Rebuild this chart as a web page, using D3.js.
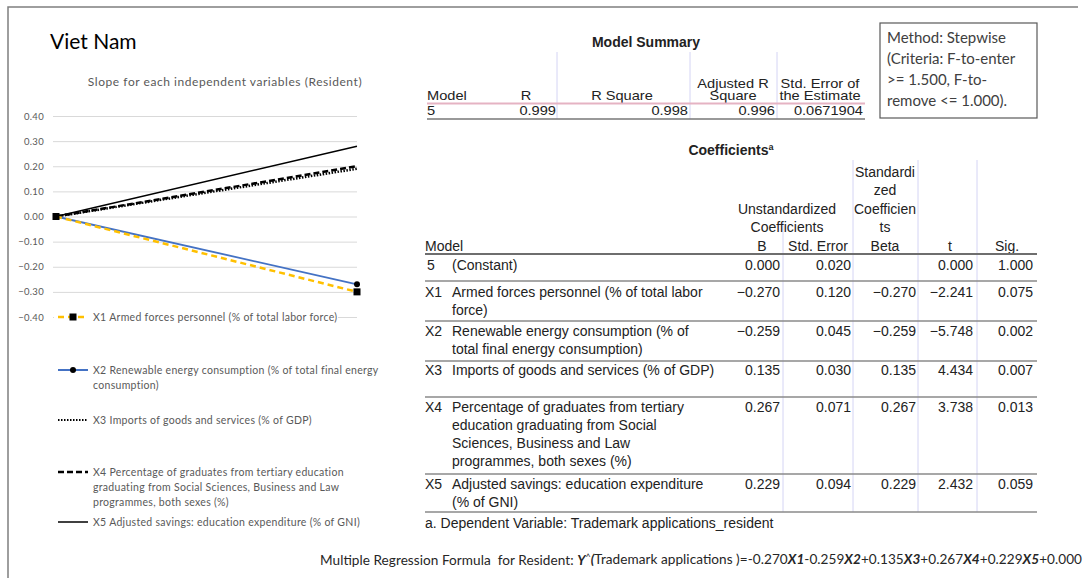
<!DOCTYPE html>
<html><head><meta charset="utf-8">
<script src="https://cdn.jsdelivr.net/npm/d3@7"></script>
<style>
html,body{margin:0;padding:0;background:#fff;}
svg{display:block;}
</style></head>
<body>
<svg id="c" width="1088" height="578"></svg>
<script>
// ---------- chart data ----------
const categories = ["start", "end"];
const x1Values = [0, -0.30];   // X1 Armed forces personnel
const x2Values = [0, -0.27];   // X2 Renewable energy consumption
const x3Values = [0, 0.19];    // X3 Imports of goods and services
const x4Values = [0, 0.20];    // X4 Percentage of graduates ...
const x5Values = [0, 0.28];    // X5 Adjusted savings: education expenditure
const yTicks = [-0.4, -0.3, -0.2, -0.1, 0, 0.1, 0.2, 0.3, 0.4];
const legendLabels = [
  ["X1 Armed forces personnel (% of total labor force)"],
  ["X2 Renewable energy consumption (% of total final energy", "consumption)"],
  ["X3 Imports of goods and services (% of GDP)"],
  ["X4 Percentage of graduates from tertiary education", "graduating from Social Sciences, Business and Law", "programmes, both sexes (%)"],
  ["X5 Adjusted savings: education expenditure (% of GNI)"]
];

// ---------- Model Summary ----------
const msHeaders = [["", "Model"], ["", "R"], ["", "R Square"], ["Adjusted R", "Square"], ["Std. Error of", "the Estimate"]];
const msRow = ["5", "0.999", "0.998", "0.996", "0.0671904"];

// ---------- Coefficients ----------
const coefCodes = ["5", "X1", "X2", "X3", "X4", "X5"];
const coefLabels = [
  ["(Constant)"],
  ["Armed forces personnel (% of total labor", "force)"],
  ["Renewable energy consumption (% of", "total final energy consumption)"],
  ["Imports of goods and services (% of GDP)"],
  ["Percentage of graduates from tertiary", "education graduating from Social", "Sciences, Business and Law", "programmes, both sexes (%)"],
  ["Adjusted savings: education expenditure", "(% of GNI)"]
];
const coefB    = ["0.000", "\u22120.270", "\u22120.259", "0.135", "0.267", "0.229"];
const coefSE   = ["0.020", "0.120", "0.045", "0.030", "0.071", "0.094"];
const coefBeta = ["", "\u22120.270", "\u22120.259", "0.135", "0.267", "0.229"];
const coefT    = ["0.000", "\u22122.241", "\u22125.748", "4.434", "3.738", "2.432"];
const coefSig  = ["1.000", "0.075", "0.002", "0.007", "0.013", "0.059"];
const methodLines = ["Method: Stepwise", "(Criteria: F-to-enter", ">= 1.500, F-to-", "remove <= 1.000)."];

const svg = d3.select("#c");
svg.append("rect").attr("width", 1088).attr("height", 578).attr("fill", "#fff");

// frame
svg.append("path").attr("d", "M8,578V7H1078").attr("fill", "none").attr("stroke", "#7f7f7f").attr("stroke-width", 1.5);

const CAL = "Lato, 'Open Sans', sans-serif";
const ARI = "'Liberation Sans', Arial, sans-serif";

svg.append("text").attr("x", 50).attr("y", 42).attr("dy", "0.35em")
  .attr("font-family", CAL).attr("font-size", 21).attr("fill", "#000").text("Viet Nam");

svg.append("text").attr("x", 225).attr("y", 82).attr("dy", "0.35em").attr("text-anchor", "middle")
  .attr("font-family", CAL).attr("font-size", 12).attr("letter-spacing", 0.55).attr("fill", "#595959")
  .text("Slope for each independent variables (Resident)");

// scales
const y = d3.scaleLinear().domain([-0.4, 0.4]).range([317, 116]);
const x = d3.scalePoint().domain(categories).range([56, 357]);

const yAxis = d3.axisLeft(y).tickValues(yTicks).tickFormat(d3.format(".2f")).tickSize(-304).tickPadding(9);
const ga = svg.append("g").attr("transform", "translate(53,0)").call(yAxis);
ga.select(".domain").remove();
ga.selectAll(".tick line").attr("stroke", "#d9d9d9").attr("stroke-width", 1);
ga.selectAll(".tick text").attr("font-family", CAL).attr("font-size", 9.5).attr("letter-spacing", 0.3).attr("fill", "#595959");

const line = d3.line().x((d, i) => x(categories[i])).y(d => y(d));

const series = [
  {vals: x5Values, color: "#000", w: 1.5, dash: null},
  {vals: x4Values, color: "#000", w: 2.5, dash: "6,3"},
  {vals: x3Values, color: "#000", w: 2.5, dash: "1.5,1.5"},
  {vals: x2Values, color: "#4472C4", w: 1.8, dash: null},
  {vals: x1Values, color: "#FFC000", w: 2.5, dash: "6,4"}
];
series.forEach(s => {
  svg.append("path").datum(s.vals).attr("d", line).attr("fill", "none")
    .attr("stroke", s.color).attr("stroke-width", s.w).attr("stroke-dasharray", s.dash);
});
// markers
svg.selectAll(".m2").data(x2Values).enter().append("circle")
  .attr("cx", (d, i) => x(categories[i])).attr("cy", d => y(d)).attr("r", 3).attr("fill", "#000");
svg.selectAll(".m1").data(x1Values).enter().append("rect")
  .attr("x", (d, i) => x(categories[i]) - 3.5).attr("y", d => y(d) - 3.5)
  .attr("width", 7).attr("height", 7).attr("fill", "#000");

// legend
const lg = svg.append("g");
lg.append("rect").attr("x", 54).attr("y", 310).attr("width", 284).attr("height", 220).attr("fill", "#fff");
const legY = [317, 370, 420, 472, 522];
const legStyles = [
  {color: "#FFC000", w: 2.5, dash: "6,4", marker: "sq"},
  {color: "#4472C4", w: 2, dash: null, marker: "ci"},
  {color: "#000", w: 2, dash: "1.5,1.5", marker: null},
  {color: "#000", w: 2.5, dash: "6,3", marker: null},
  {color: "#000", w: 1.5, dash: null, marker: null}
];
legendLabels.forEach((lines, i) => {
  const st = legStyles[i], yy = legY[i];
  lg.append("line").attr("x1", 58).attr("x2", 88).attr("y1", yy).attr("y2", yy)
    .attr("stroke", st.color).attr("stroke-width", st.w).attr("stroke-dasharray", st.dash);
  if (st.marker === "sq") lg.append("rect").attr("x", 69.5).attr("y", yy - 3.5).attr("width", 7).attr("height", 7).attr("fill", "#000");
  if (st.marker === "ci") lg.append("circle").attr("cx", 73).attr("cy", yy).attr("r", 3).attr("fill", "#000");
  lines.forEach((t, j) => {
    lg.append("text").attr("x", 93).attr("y", yy + j * 15).attr("dy", "0.35em")
      .attr("font-family", CAL).attr("font-size", 10.5).attr("letter-spacing", 0.3).attr("fill", "#595959").text(t);
  });
});

// helper: horizontally stretched text
function sText(g, xx, yy, t, anchor, sx) {
  g.append("text").attr("transform", `translate(${xx},${yy}) scale(${sx},1)`).attr("dy", "0.35em")
    .attr("text-anchor", anchor).text(t);
}

// ---------- Model Summary table ----------
const MSX = 1.17;
const ms = svg.append("g").attr("font-family", ARI).attr("font-size", 12.5).attr("fill", "#222");
ms.append("text").attr("x", 646).attr("y", 42).attr("dy", "0.35em").attr("text-anchor", "middle")
  .attr("font-weight", "bold").attr("font-size", 14).text("Model Summary");
const msSep = [557, 690, 777];
msSep.forEach(xx => ms.append("line").attr("x1", xx).attr("x2", xx).attr("y1", 52).attr("y2", 119)
  .attr("stroke", "#d4d4f4").attr("stroke-width", 1));
const msHx = [[427, "start"], [526, "middle"], [622, "middle"], [733, "middle"], [820, "middle"]];
msHeaders.forEach((h, i) => {
  h.forEach((t, j) => {
    if (!t) return;
    sText(ms, msHx[i][0], 84 + j * 12, t, msHx[i][1], MSX);
  });
});
ms.append("line").attr("x1", 427).attr("x2", 865).attr("y1", 103.5).attr("y2", 103.5).attr("stroke", "#e5b3c3").attr("stroke-width", 2);
const msRx = [[427, "start"], [556, "end"], [688, "end"], [775, "end"], [863, "end"]];
msRow.forEach((t, i) => sText(ms, msRx[i][0], 111, t, msRx[i][1], MSX));
ms.append("line").attr("x1", 427).attr("x2", 865).attr("y1", 119).attr("y2", 119).attr("stroke", "#777").attr("stroke-width", 1.5);

// Method box
const mb = svg.append("g");
mb.append("rect").attr("x", 880).attr("y", 23).attr("width", 157).attr("height", 95)
  .attr("fill", "#fff").attr("stroke", "#595959").attr("stroke-width", 1.2);
methodLines.forEach((t, i) => {
  mb.append("text").attr("x", 887).attr("y", 38 + i * 21).attr("dy", "0.35em")
    .attr("font-family", CAL).attr("font-size", 15).attr("fill", "#404040").text(t);
});

// ---------- Coefficients table ----------
const ct = svg.append("g").attr("font-family", ARI).attr("font-size", 14).attr("fill", "#222");
const ctTitle = ct.append("text").attr("x", 731).attr("y", 150).attr("dy", "0.35em").attr("text-anchor", "middle")
  .attr("font-weight", "bold").attr("font-size", 14);
ctTitle.append("tspan").text("Coefficients");
ctTitle.append("tspan").attr("font-size", 9).attr("dy", "-0.6em").text("a");

const LH = 18;
const cSep = [[783, 222], [853, 160], [918, 160], [977, 160]];
cSep.forEach(([xx, y0]) => ct.append("line").attr("x1", xx).attr("x2", xx).attr("y1", y0).attr("y2", 512)
  .attr("stroke", "#d4d4f4").attr("stroke-width", 1));

const hdr = [
  {x: 885, lines: ["Standardi", "zed", "Coefficien", "ts", "Beta"], y0: 172},
  {x: 787, lines: ["Unstandardized", "Coefficients"], y0: 209},
  {x: 762, lines: ["B"], y0: 246},
  {x: 818, lines: ["Std. Error"], y0: 246},
  {x: 950, lines: ["t"], y0: 246},
  {x: 1007, lines: ["Sig."], y0: 246}
];
hdr.forEach(h => h.lines.forEach((t, j) => ct.append("text").attr("x", h.x).attr("y", h.y0 + j * 18.5)
  .attr("dy", "0.35em").attr("text-anchor", "middle").text(t)));
ct.append("text").attr("x", 425).attr("y", 246).attr("dy", "0.35em").text("Model");

const ruleY = [254, 281, 321, 361, 397, 474, 512];
ruleY.forEach((yy, i) => ct.append("line").attr("x1", 425).attr("x2", 1037).attr("y1", yy).attr("y2", yy)
  .attr("stroke", i === 0 ? "#6e6e6e" : "#8a8a8a").attr("stroke-width", i === 0 ? 2.2 : 1.6));

const rowY = [265, 292, 331, 370, 407, 484];
coefCodes.forEach((code, r) => {
  const yy = rowY[r];
  ct.append("text").attr("x", 425 + (r === 0 ? 2 : 0)).attr("y", yy).attr("dy", "0.35em").text(code);
  coefLabels[r].forEach((t, j) => ct.append("text").attr("x", 452).attr("y", yy + j * LH).attr("dy", "0.35em").text(t));
  [[coefB, 780], [coefSE, 851], [coefBeta, 916], [coefT, 973], [coefSig, 1033]].forEach(([arr, xx]) => {
    if (arr[r]) ct.append("text").attr("x", xx).attr("y", yy).attr("dy", "0.35em").attr("text-anchor", "end").text(arr[r]);
  });
});
ct.append("text").attr("x", 425).attr("y", 523).attr("dy", "0.35em").text("a. Dependent Variable: Trademark applications_resident");

// ---------- formula ----------
const ft = svg.append("text").attr("x", 320).attr("y", 560).attr("dy", "0.35em")
  .attr("font-family", CAL).attr("font-size", 13.6).attr("fill", "#262626")
  .attr("textLength", 762).attr("lengthAdjust", "spacing");
ft.append("tspan").text("Multiple Regression Formula\u00a0 for Resident: ");
ft.append("tspan").attr("font-weight", "bold").attr("font-style", "italic").text("Y");
ft.append("tspan").attr("font-size", 9).attr("dy", "-0.5em").text("^");
ft.append("tspan").attr("font-weight", "bold").attr("font-style", "italic").attr("dy", "0.31em").text("(");
ft.append("tspan").text("Trademark applications )=");
const xs = ["X1", "X2", "X3", "X4", "X5"];
xs.forEach((xn, i) => {
  const v = coefB[i + 1].replace("\u2212", "-");
  const s = (i > 0 && !v.startsWith("-")) ? "+" + v : v;
  ft.append("tspan").text(s);
  ft.append("tspan").attr("font-weight", "bold").attr("font-style", "italic").text(xn);
});
ft.append("tspan").text("+" + coefB[0]);
</script>
</body></html>
